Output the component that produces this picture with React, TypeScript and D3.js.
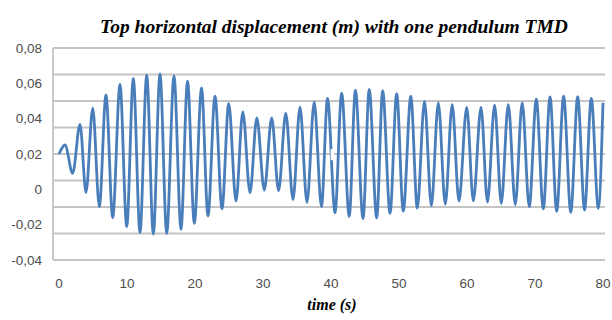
import React, { useEffect, useRef } from 'react';
import * as d3 from 'd3';

// extrema of the response (time in s, displacement in m)
const times = [
  0, 0.88, 2.01, 3.09, 3.97, 4.96, 5.93, 6.91, 7.9, 8.97, 9.96,
  10.93, 11.91, 12.9, 13.87, 14.85, 15.84, 16.91, 17.94, 18.9, 19.9,
  20.96, 21.91, 22.94, 23.97, 24.96, 26.03, 27.03, 28.09, 29.09, 30.19,
  31.28, 32.29, 33.35, 34.41, 35.44, 36.47, 37.53, 38.6, 39.49, 40.59,
  41.57, 42.68, 43.59, 44.71, 45.62, 46.72, 47.6, 48.68, 49.66, 50.63,
  51.74, 52.69, 53.75, 54.76, 55.78, 56.81, 57.82, 58.82, 59.96, 60.93,
  62.06, 63.01, 64.06, 65.04, 66.07, 67.1, 68.12, 69.15, 70.19, 71.22,
  72.21, 73.19, 74.21, 75.26, 76.28, 77.29, 78.28, 79.31, 80
];
const displacement = [
  0.02, 0.0251, 0.0091, 0.0368, -0.0019, 0.0459, -0.0098, 0.0534, -0.016, 0.0594, -0.0211,
  0.0628, -0.0245, 0.0647, -0.0253, 0.0653, -0.0249, 0.0642, -0.0226, 0.0613, -0.0192,
  0.0574, -0.0151, 0.0528, -0.011, 0.0485, -0.0066, 0.0439, -0.002, 0.0405, -0.0004,
  0.0405, -0.0008, 0.0431, -0.0058, 0.0465, -0.0074, 0.0493, -0.0098, 0.0515, -0.0132,
  0.0545, -0.0153, 0.0561, -0.0166, 0.0566, -0.0162, 0.0558, -0.0136, 0.0542, -0.0123,
  0.0527, -0.0106, 0.0498, -0.0092, 0.0489, -0.0084, 0.0479, -0.0066, 0.0464, -0.0065,
  0.0464, -0.0072, 0.0477, -0.0079, 0.048, -0.0086, 0.049, -0.0098, 0.051, -0.0111,
  0.0523, -0.0124, 0.0528, -0.013, 0.0524, -0.0117, 0.0515, -0.0107, 0.049
];

// small hole in the trace just after t = 40 s
const gapTime = [39.95, 40.45];
const gapValue = [0.0165, 0.0228];

const xTicks = [0, 10, 20, 30, 40, 50, 60, 70, 80];
const yTicks = [0.08, 0.06, 0.04, 0.02, 0, -0.02, -0.04];
const gridValues = [0.08, 0.065, 0.05, 0.035, 0.02, 0.005, -0.01, -0.025, -0.04];

const App = () => {
  const svgRef = useRef<SVGSVGElement>(null);
  const width = 612;
  const height = 320;

  useEffect(() => {
    if (!svgRef.current) return;
    const svg = d3.select(svgRef.current);
    svg.selectAll('*').remove();

    const plotLeft = 53;
    const plotRight = 605;

    const x = d3.scaleLinear().domain([0, 80]).range([59, 603]);
    const y = d3.scaleLinear().domain([-0.04, 0.08]).range([260, 48]);

    svg.append('rect')
      .attr('width', width)
      .attr('height', height)
      .attr('fill', '#ffffff');

    // title
    svg.append('text')
      .attr('x', 334)
      .attr('y', 33)
      .attr('text-anchor', 'middle')
      .style('font-family', '"Liberation Serif", serif')
      .style('font-size', '19.5px')
      .style('font-weight', 'bold')
      .style('font-style', 'italic')
      .attr('fill', '#000')
      .text('Top horizontal displacement (m) with one pendulum TMD');

    // horizontal grid
    svg.append('g')
      .selectAll('line')
      .data(gridValues)
      .join('line')
      .attr('x1', plotLeft)
      .attr('x2', plotRight)
      .attr('y1', d => y(d))
      .attr('y2', d => y(d))
      .attr('stroke', '#c4c4c4')
      .attr('stroke-width', 1.8);

    // vertical axis line
    svg.append('line')
      .attr('x1', plotLeft)
      .attr('x2', plotLeft)
      .attr('y1', y(0.08))
      .attr('y2', y(-0.04))
      .attr('stroke', '#c4c4c4')
      .attr('stroke-width', 1.8);

    // y tick labels
    svg.append('g')
      .selectAll('text')
      .data(yTicks)
      .join('text')
      .attr('x', 42)
      .attr('y', d => y(d))
      .attr('dy', '0.35em')
      .attr('text-anchor', 'end')
      .style('font-family', '"Liberation Sans", Arial, sans-serif')
      .style('font-size', '13.5px')
      .attr('fill', '#4d4d4d')
      .text(d => (Math.abs(d) < 1e-9 ? '0' : d3.format('.2f')(d).replace('.', ',').replace('−', '-')));

    // x tick labels
    svg.append('g')
      .selectAll('text')
      .data(xTicks)
      .join('text')
      .attr('x', d => x(d))
      .attr('y', 283)
      .attr('dy', '0.35em')
      .attr('text-anchor', 'middle')
      .style('font-family', '"Liberation Sans", Arial, sans-serif')
      .style('font-size', '13.5px')
      .attr('fill', '#4d4d4d')
      .text(d => String(d));

    // axis title
    svg.append('text')
      .attr('x', 332)
      .attr('y', 310)
      .attr('text-anchor', 'middle')
      .style('font-family', '"Liberation Serif", serif')
      .style('font-size', '16px')
      .style('font-weight', 'bold')
      .style('font-style', 'italic')
      .attr('fill', '#000')
      .text('time (s)');

    // the response curve
    const points = times.map((t, i) => [t, displacement[i]] as [number, number]);
    const line = d3.line<[number, number]>()
      .x(d => x(d[0]))
      .y(d => y(d[1]))
      .curve(d3.curveMonotoneX);

    svg.append('path')
      .datum(points)
      .attr('d', line)
      .attr('fill', 'none')
      .attr('stroke', '#4a7ebb')
      .attr('stroke-width', 2.8)
      .attr('stroke-linejoin', 'round');

    // gap in the trace
    svg.append('rect')
      .attr('x', x(gapTime[0]))
      .attr('y', y(gapValue[1]))
      .attr('width', x(gapTime[1]) - x(gapTime[0]))
      .attr('height', y(gapValue[0]) - y(gapValue[1]))
      .attr('fill', '#ffffff');
  }, []);

  return (
    <svg
      ref={svgRef}
      width={width}
      height={height}
      style={{ position: 'absolute', left: 0, top: 0 }}
    />
  );
};

export default App;
